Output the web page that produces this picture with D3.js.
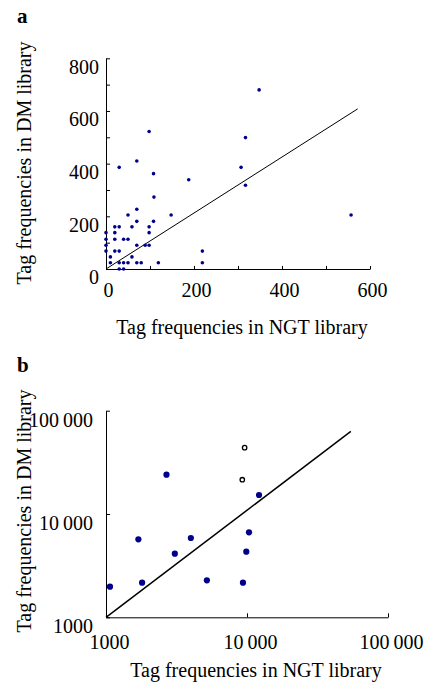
<!DOCTYPE html>
<html>
<head>
<meta charset="utf-8">
<script src="https://cdn.jsdelivr.net/npm/d3@7"></script>
<style>
  body { margin: 0; background: #fff; }
  text { font-family: "Liberation Serif", "Times New Roman", serif; fill: #000; }
</style>
</head>
<body>
<svg width="429" height="685"></svg>
<script>
// panel a - tag frequencies, linear axes
var ngtA = [348, 98, 317, 70, 30, 307, 108, 188, 317, 109, 70, 50, 148, 557, 70, 108,
  20, 30, 59, 98, 0, 20, 98, 0, 20, 40, 50, 0, 70, 89, 98, 0, 20, 30, 219,
  10, 59, 10, 30, 40, 50, 70, 80, 119, 219, 30, 40];
var dmA = [680, 522, 499, 410, 386, 386, 362, 339, 318, 273, 227, 205, 205, 205, 181, 181,
  160, 160, 160, 160, 138, 138, 138, 113, 113, 113, 113, 90, 90, 90, 90, 68, 68, 68, 68,
  46, 46, 24, 24, 24, 24, 24, 24, 24, 24, 0, 0];
var fitA = [[0, 0], [572, 608]];
var xTicksA = [0, 100, 200, 300, 400, 500, 600];
var xLabelsA = ["0", "", "200", "", "400", "", "600"];
var yTicksA = [0, 100, 200, 300, 400, 500, 600, 700, 800];
var yLabelsA = ["0", "", "200", "", "400", "", "600", "", "800"];

// panel b - tag frequencies, log axes
var ngtB = [1067, 1697, 1803, 2685, 3077, 3998, 5194, 9362, 9886, 10330, 12170];
var dmB = [1981, 5688, 2164, 24030, 4130, 5857, 2279, 2164, 4318, 6645, 15270];
var ngtBOpen = [9620, 9260];
var dmBOpen = [43860, 21490];
var fitB = [[1000, 1000], [54500, 63000]];
var ticksB = [1000, 10000, 100000];
var labelsB = ["1000", "10\u2009000", "100\u2009000"];

var svg = d3.select('svg');
var dotColor = '#00008b';

var styleAxis = function(g){
  g.attr('font-family', null).attr('font-size', null);
  g.select('.domain').attr('stroke', '#000');
  g.selectAll('.tick line').attr('stroke', '#000');
  g.selectAll('text').style('font-size', '20px').attr('fill', '#000');
};

// ---- panel a
var xA = d3.scaleLinear().domain([0, 600]).range([106, 370]);
var yA = d3.scaleLinear().domain([0, 800]).range([269, 58.3]);

var gxA = svg.append('g').attr('transform', 'translate(0,269)')
  .call(d3.axisBottom(xA).tickValues(xTicksA)
    .tickFormat(function(d, i){ return xLabelsA[i]; })
    .tickSizeInner(-3).tickSizeOuter(0));
styleAxis(gxA);
gxA.selectAll('text').attr('y', 28).attr('dy', 0).attr('dx', 2);

var gyA = svg.append('g').attr('transform', 'translate(106,0)')
  .call(d3.axisLeft(yA).tickValues(yTicksA)
    .tickFormat(function(d, i){ return yLabelsA[i]; })
    .tickSizeInner(-4).tickSizeOuter(0).tickPadding(7));
styleAxis(gyA);
gyA.selectAll('text').attr('y', 8.5);

svg.append('path')
  .attr('d', d3.line().x(function(d){ return xA(d[0]); }).y(function(d){ return yA(d[1]); })(fitA))
  .attr('stroke', '#000').attr('stroke-width', 1).attr('fill', 'none');

svg.append('g').selectAll('circle')
  .data(ngtA.map(function(d, i){ return {x: d, y: dmA[i]}; }))
  .enter()
  .append('circle')
    .attr('cx', function(d){ return xA(d.x); })
    .attr('cy', function(d){ return yA(d.y); })
    .attr('r', 1.8)
    .attr('fill', dotColor);

svg.append('text').attr('x', 17).attr('y', 23)
  .style('font-size', '21px').style('font-weight', 'bold').text('a');
svg.append('text').attr('x', 242).attr('y', 334).attr('text-anchor', 'middle')
  .style('font-size', '20px').text('Tag frequencies in NGT library');
svg.append('text').attr('transform', 'translate(31,163) rotate(-90)').attr('text-anchor', 'middle')
  .style('font-size', '20px').text('Tag frequencies in DM library');

// ---- panel b
var xB = d3.scaleLog().domain([1000, 100000]).range([106, 388]);
var yB = d3.scaleLog().domain([1000, 100000]).range([617.3, 410.7]);

var gxB = svg.append('g').attr('transform', 'translate(0,617.3)')
  .call(d3.axisBottom(xB).tickValues(ticksB)
    .tickFormat(function(d, i){ return labelsB[i]; })
    .tickSizeInner(-4).tickSizeOuter(0));
styleAxis(gxB);
gxB.selectAll('text').attr('y', 32).attr('dy', 0).attr('dx', 3);

var gyB = svg.append('g').attr('transform', 'translate(106,0)')
  .call(d3.axisLeft(yB).tickValues(ticksB)
    .tickFormat(function(d, i){ return labelsB[i]; })
    .tickSizeInner(-4).tickSizeOuter(0).tickPadding(13));
styleAxis(gyB);
gyB.selectAll('text').attr('y', 9);

svg.append('path')
  .attr('d', d3.line().x(function(d){ return xB(d[0]); }).y(function(d){ return yB(d[1]); })(fitB))
  .attr('stroke', '#000').attr('stroke-width', 1.5).attr('fill', 'none');

svg.append('g').selectAll('circle')
  .data(ngtB.map(function(d, i){ return {x: d, y: dmB[i]}; }))
  .enter()
  .append('circle')
    .attr('cx', function(d){ return xB(d.x); })
    .attr('cy', function(d){ return yB(d.y); })
    .attr('r', 3.1)
    .attr('fill', dotColor);

svg.append('g').selectAll('circle')
  .data(ngtBOpen.map(function(d, i){ return {x: d, y: dmBOpen[i]}; }))
  .enter()
  .append('circle')
    .attr('cx', function(d){ return xB(d.x); })
    .attr('cy', function(d){ return yB(d.y); })
    .attr('r', 2.2)
    .attr('fill', '#fff')
    .attr('stroke', '#000')
    .attr('stroke-width', 1.3);

svg.append('text').attr('x', 17).attr('y', 372)
  .style('font-size', '21px').style('font-weight', 'bold').text('b');
svg.append('text').attr('x', 256).attr('y', 677).attr('text-anchor', 'middle')
  .style('font-size', '20px').text('Tag frequencies in NGT library');
svg.append('text').attr('transform', 'translate(31,511) rotate(-90)').attr('text-anchor', 'middle')
  .style('font-size', '20px').text('Tag frequencies in DM library');
</script>
</body>
</html>
